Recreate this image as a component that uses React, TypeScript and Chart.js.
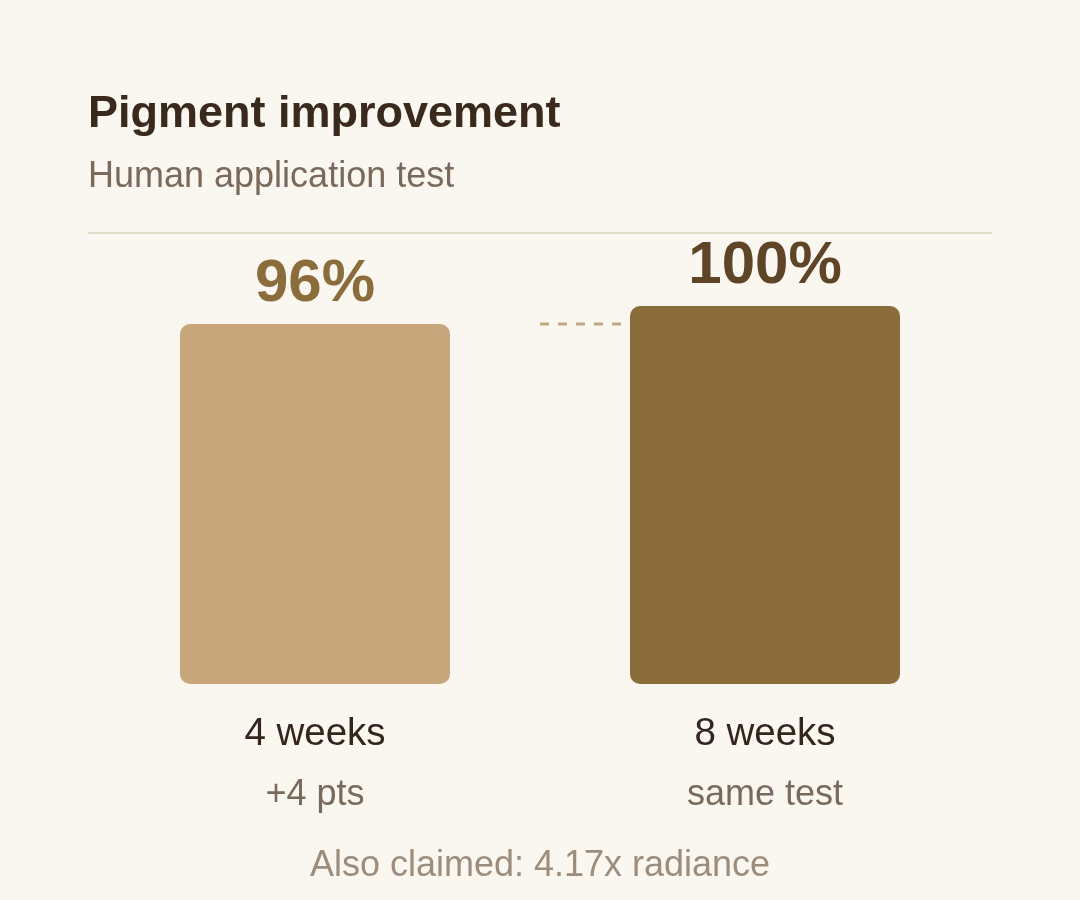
import React, { useEffect, useRef } from "react";
import { Chart, registerables } from "chart.js";

Chart.register(...registerables);

const categories = ["4 weeks", "8 weeks"];
const values = [96, 100];
const valueLabels = ["96%", "100%"];
const subLabels = ["+4 pts", "same test"];
const barColors = ["#C9A77C", "#8B6D3B"];
const valueLabelColors = ["#8B6D3B", "#5E4526"];
const titleText = "Pigment improvement";
const subtitleText = "Human application test";
const footerText = "Also claimed: 4.17x radiance";
const yMin = 16;
const yMax = 116;

const FONT = '"Liberation Sans", Arial, sans-serif';
const BG = "#FAF6F0";

const overlayPlugin = {
  id: "overlay",
  afterDatasetsDraw(chart: any) {
    const ctx = chart.ctx;
    const x = chart.scales.x;
    const y = chart.scales.y;
    const meta = chart.getDatasetMeta(0);
    ctx.save();

    // title & subtitle
    ctx.textAlign = "left";
    ctx.textBaseline = "alphabetic";
    ctx.fillStyle = "#3A2A1E";
    ctx.font = `bold 45px ${FONT}`;
    ctx.fillText(titleText, 88, 127);
    ctx.fillStyle = "#7A6A5C";
    ctx.font = `36px ${FONT}`;
    ctx.fillText(subtitleText, 88, 187);

    // rule
    ctx.strokeStyle = "#E2DBC8";
    ctx.lineWidth = 2;
    ctx.beginPath();
    ctx.moveTo(88, chart.chartArea.top - 1);
    ctx.lineTo(992, chart.chartArea.top - 1);
    ctx.stroke();

    // dashed reference line at first value level
    const c0 = x.getPixelForValue(0);
    const c1 = x.getPixelForValue(1);
    const bar1 = meta.data[1];
    const refY = y.getPixelForValue(values[0]);
    ctx.strokeStyle = "#BDA982";
    ctx.lineWidth = 3;
    ctx.setLineDash([9, 9]);
    ctx.beginPath();
    ctx.moveTo((c0 + c1) / 2, refY);
    ctx.lineTo(bar1.x - bar1.width / 2 - 9, refY);
    ctx.stroke();
    ctx.setLineDash([]);

    // value labels
    ctx.textAlign = "center";
    values.forEach((v, i) => {
      const cx = x.getPixelForValue(i);
      const top = y.getPixelForValue(v);
      ctx.fillStyle = valueLabelColors[i];
      ctx.font = `bold 60px ${FONT}`;
      ctx.fillText(valueLabels[i], cx, top - 23);
    });

    // category labels
    categories.forEach((c, i) => {
      const cx = x.getPixelForValue(i);
      ctx.fillStyle = "#33261C";
      ctx.font = `38.5px ${FONT}`;
      ctx.fillText(c, cx, chart.chartArea.bottom + 61);
      ctx.fillStyle = "#7A6A5C";
      ctx.font = `36px ${FONT}`;
      ctx.fillText(subLabels[i], cx, chart.chartArea.bottom + 121);
    });

    // footer
    ctx.fillStyle = "#9C8D7D";
    ctx.font = `36px ${FONT}`;
    ctx.fillText(footerText, chart.width / 2, 876);

    ctx.restore();
  },
};

export default function App() {
  const ref = useRef<HTMLCanvasElement | null>(null);

  useEffect(() => {
    document.body.style.margin = "0";
    document.body.style.background = BG;
    const canvas = ref.current!;
    const chart = new Chart(canvas, {
      type: "bar",
      data: {
        labels: categories,
        datasets: [
          {
            data: values,
            base: yMin,
            backgroundColor: barColors,
            borderRadius: 10,
            borderSkipped: false,
            barPercentage: 0.6,
            categoryPercentage: 1.0,
          },
        ],
      },
      options: {
        responsive: false,
        animation: false,
        devicePixelRatio: 1,
        layout: { padding: { left: 90, right: 90, top: 234, bottom: 216 } },
        plugins: {
          legend: { display: false },
          tooltip: { enabled: false },
          title: { display: false },
        },
        scales: {
          x: { display: false },
          y: { display: false, min: yMin, max: yMax },
        },
      },
      plugins: [overlayPlugin],
    });
    return () => chart.destroy();
  }, []);

  return (
    <div style={{ position: "fixed", left: 0, top: 0, width: 1080, height: 900, background: BG }}>
      <canvas ref={ref} width={1080} height={900} style={{ width: 1080, height: 900, display: "block" }} />
    </div>
  );
}
